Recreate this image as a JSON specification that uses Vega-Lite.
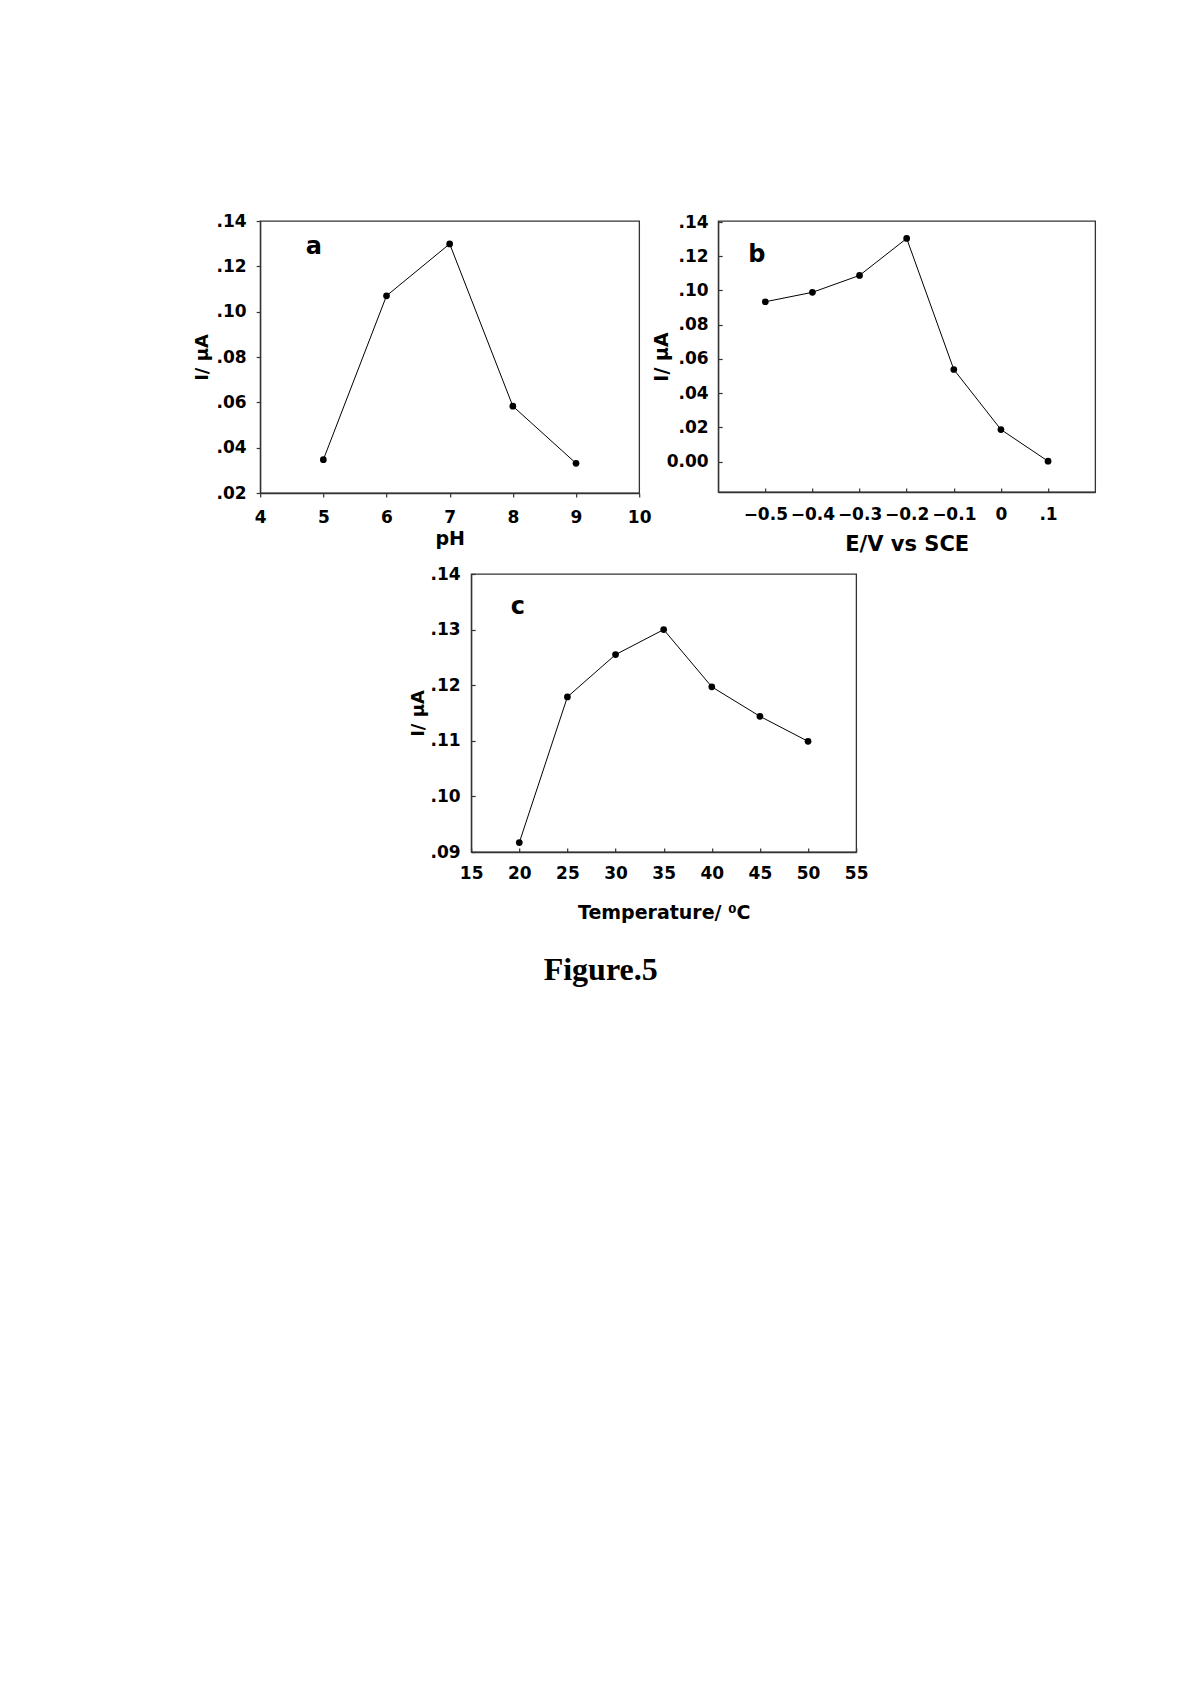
{
  "$schema": "https://vega.github.io/schema/vega-lite/v6.json",
  "background": "white",
  "padding": {"left": 192, "top": 211, "right": 10, "bottom": 10},
  "datasets": {
    "a": [
      {"pH": 5, "I": 0.0347},
      {"pH": 6, "I": 0.107},
      {"pH": 7, "I": 0.1299},
      {"pH": 8, "I": 0.0583},
      {"pH": 9, "I": 0.0331}
    ],
    "b": [
      {"E": -0.5, "I": 0.0934},
      {"E": -0.4, "I": 0.0989},
      {"E": -0.3, "I": 0.1088},
      {"E": -0.2, "I": 0.1304},
      {"E": -0.1, "I": 0.0538},
      {"E": 0.0, "I": 0.0187},
      {"E": 0.1, "I": 0.0002}
    ],
    "c": [
      {"T": 20, "I": 0.0917},
      {"T": 25, "I": 0.1179},
      {"T": 30, "I": 0.1255},
      {"T": 35, "I": 0.13},
      {"T": 40, "I": 0.1197},
      {"T": 45, "I": 0.1144},
      {"T": 50, "I": 0.1099}
    ]
  },
  "spacing": 9,
  "center": true,
  "vconcat": [
    {
      "spacing": -1,
      "hconcat": [
        {
          "width": 379,
          "height": 272,
          "encoding": {
            "x": {"field": "pH", "type": "quantitative", "scale": {"domain": [4, 10], "nice": false, "zero": false},
              "axis": {"values": [4, 5, 6, 7, 8, 9, 10], "title": "pH", "tickSize": 4, "labelPadding": 12, "titleFontSize": 19, "titlePadding": 4}},
            "y": {"field": "I", "type": "quantitative", "scale": {"domain": [0.02, 0.14], "nice": false, "zero": false},
              "axis": {"values": [0.02, 0.04, 0.06, 0.08, 0.1, 0.12, 0.14], "labelExpr": "slice(format(datum.value,'.2f'),1)", "title": "I/ µA", "tickSize": 4, "labelPadding": 10, "titleFontSize": 18, "titlePadding": 5}}
          },
          "layer": [
            {"data": {"name": "a"}, "mark": {"type": "line", "color": "black", "strokeWidth": 1}},
            {"data": {"name": "a"}, "mark": {"type": "point", "filled": true, "color": "black", "size": 45, "opacity": 1}},
            {"data": {"values": [{"pH": 4.85, "I": 0.1256, "t": "a"}]},
              "mark": {"type": "text", "fontSize": 24, "fontWeight": "bold", "font": "DejaVu Sans", "baseline": "alphabetic", "align": "center", "color": "black"},
              "encoding": {"text": {"field": "t"}}}
          ]
        },
        {
          "width": 377,
          "height": 271,
          "encoding": {
            "x": {"field": "E", "type": "quantitative", "scale": {"domain": [-0.6, 0.2], "nice": false, "zero": false},
              "axis": {"values": [-0.5, -0.4, -0.3, -0.2, -0.1, 0, 0.1],
                "labelExpr": "datum.value < -0.01 ? '\u2212' + format(abs(datum.value),'.1f') : (datum.value > 0.01 ? slice(format(datum.value,'.1f'),1) : '0')",
                "title": "E/V vs SCE", "tickSize": -4, "labelPadding": 18, "titleFontSize": 21, "titlePadding": 11}},
            "y": {"field": "I", "type": "quantitative", "scale": {"domain": [-0.0178, 0.1406], "nice": false, "zero": false},
              "axis": {"values": [0, 0.02, 0.04, 0.06, 0.08, 0.1, 0.12, 0.14],
                "labelExpr": "datum.value == 0 ? '0.00' : slice(format(datum.value,'.2f'),1)",
                "title": "I/ µA", "tickSize": -4, "labelPadding": 14, "titleFontSize": 19, "titlePadding": -5}}
          },
          "layer": [
            {"data": {"name": "b"}, "mark": {"type": "line", "color": "black", "strokeWidth": 1}},
            {"data": {"name": "b"}, "mark": {"type": "point", "filled": true, "color": "black", "size": 45, "opacity": 1}},
            {"data": {"values": [{"E": -0.518, "I": 0.1168, "t": "b"}]},
              "mark": {"type": "text", "fontSize": 24, "fontWeight": "bold", "font": "DejaVu Sans", "baseline": "alphabetic", "align": "center", "color": "black"},
              "encoding": {"text": {"field": "t"}}}
          ]
        }
      ]
    },
    {
      "width": 385,
      "height": 278,
      "title": {"text": "Figure.5", "orient": "bottom", "anchor": "middle", "font": "Liberation Serif", "fontSize": 32, "fontWeight": "bold", "color": "black", "dx": -63, "offset": 33},
      "resolve": {"axis": {"y": "independent"}},
      "encoding": {
        "x": {"field": "T", "type": "quantitative", "scale": {"domain": [15, 55], "nice": false, "zero": false},
          "axis": {"values": [15, 20, 25, 30, 35, 40, 45, 50, 55], "title": "Temperature/ \u2070C", "tickSize": -4, "labelPadding": 17, "titleFontSize": 19, "titlePadding": 22}}
      },
      "layer": [
        {"data": {"name": "c"}, "mark": {"type": "line", "color": "black", "strokeWidth": 1},
          "encoding": {"y": {"field": "I", "type": "quantitative", "scale": {"domain": [0.09, 0.14], "nice": false, "zero": false},
            "axis": {"values": [0.09, 0.1, 0.11, 0.12, 0.13, 0.14], "labelExpr": "slice(format(datum.value,'.2f'),1)", "title": "I/ µA", "tickSize": -4, "labelPadding": 15, "titleFontSize": 18, "titlePadding": 3}}}},
        {"data": {"name": "c"}, "mark": {"type": "point", "filled": true, "color": "black", "size": 45, "opacity": 1},
          "encoding": {"y": {"field": "I", "type": "quantitative", "scale": {"domain": [0.09, 0.14], "nice": false, "zero": false},
            "axis": {"orient": "right", "labels": false, "ticks": false, "domain": false, "title": null, "minExtent": 28, "maxExtent": 28}}}},
        {"data": {"values": [{"T": 19.86, "I": 0.1328, "t": "c"}]},
          "mark": {"type": "text", "fontSize": 24, "fontWeight": "bold", "font": "DejaVu Sans", "baseline": "alphabetic", "align": "center", "color": "black"},
          "encoding": {"text": {"field": "t"}, "y": {"field": "I", "type": "quantitative", "scale": {"domain": [0.09, 0.14], "nice": false, "zero": false}, "axis": null}}}
      ]
    }
  ],
  "config": {
    "font": "DejaVu Sans",
    "view": {"stroke": "#333", "strokeWidth": 1.3},
    "axis": {
      "grid": false, "domainColor": "#333", "domainWidth": 1.3, "tickColor": "#333", "tickWidth": 1.2,
      "labelFont": "DejaVu Sans", "labelFontWeight": "bold", "labelFontSize": 17, "labelColor": "black",
      "labelOverlap": false, "labelFlush": false,
      "titleFont": "DejaVu Sans", "titleFontWeight": "bold", "titleColor": "black"
    }
  }
}
